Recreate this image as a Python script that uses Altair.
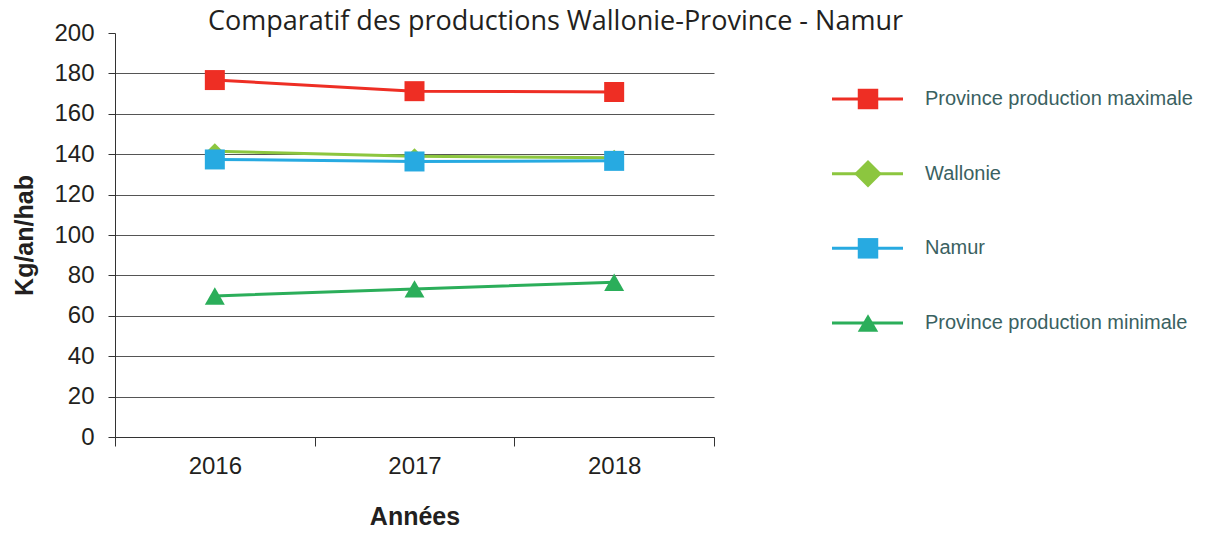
import altair as alt
import pandas as pd

years = ["2016", "2017", "2018"]
series = ["Province production maximale", "Wallonie", "Namur", "Province production minimale"]
prov_max = [176.7, 171.2, 170.8]
wallonie = [141.5, 139.0, 138.3]
namur = [137.4, 136.4, 136.7]
prov_min = [69.8, 73.3, 76.6]
colors = ["#EE2E24", "#8CC63F", "#27AAE1", "#2BAE5A"]
shapes = ["square", "diamond", "square", "triangle-up"]
y_ticks = [0, 20, 40, 60, 80, 100, 120, 140, 160, 180, 200]

values = [prov_max, wallonie, namur, prov_min]
rows = []
for s, vals in zip(series, values):
    for yr, v in zip(years, vals):
        rows.append({"year": yr, "series": s, "value": v})
df = pd.DataFrame(rows)
leg_df = pd.DataFrame({"series": series})

color = alt.Color("series:N", scale=alt.Scale(domain=series, range=colors), legend=None)
shape = alt.Shape("series:N", scale=alt.Scale(domain=series, range=shapes), legend=None)

x_enc = alt.X(
    "year:N",
    sort=years,
    scale=alt.Scale(type="band", paddingInner=0, paddingOuter=0),
    axis=alt.Axis(
        title="Années", labelAngle=0, tickBand="extent", tickSize=9, grid=False,
        labelFontSize=24, labelColor="#231F20", labelPadding=8,
        domainColor="#333333", tickColor="#333333",
        titleFontSize=25, titleFontWeight="bold", titleColor="#231F20",
        titleBaseline="alphabetic", titleY=87,
    ),
)
y_scale = alt.Scale(domain=[0, 200], nice=False)
y_axis = alt.Axis(
    title="Kg/an/hab", values=y_ticks, tickSize=7,
    labelFontSize=24, labelColor="#231F20", labelPadding=14,
    domainColor="#333333", tickColor="#333333",
    gridColor="#555555", gridWidth=1,
    gridOpacity={"condition": {"test": "datum.value === 200", "value": 0}, "value": 1},
    titleFontSize=25, titleFontWeight="bold", titleColor="#231F20",
    titleAngle=-90, titleX=-91, titleY=202, titleAlign="center", titleBaseline="middle",
)
y_enc = alt.Y("value:Q", scale=y_scale, axis=y_axis)

lines = alt.Chart(df).mark_line(strokeWidth=3).encode(
    x=x_enc, y=y_enc, color=color, detail="series:N",
)
points = alt.Chart(df).mark_point(filled=True, opacity=1).encode(
    x=x_enc, y=y_enc, color=color, shape=shape,
    size=alt.condition("datum.series === 'Wallonie'", alt.value(256), alt.value(400)),
)
main = alt.layer(lines, points)

leg_y = alt.Y("series:N", sort=series, scale=alt.Scale(type="point", range=[66, 290], padding=0), axis=None)
leg_rule = alt.Chart(leg_df).mark_rule(strokeWidth=3).encode(
    x=alt.value(717), x2=alt.value(788), y=leg_y, color=color,
)
leg_pts = alt.Chart(leg_df).mark_point(filled=True, opacity=1).encode(
    x=alt.value(753), y=leg_y, color=color, shape=shape,
    size=alt.condition("datum.series === 'Wallonie'", alt.value(760), alt.value(420)),
)
leg_txt = alt.Chart(leg_df).mark_text(align="left", baseline="middle", fontSize=20, color="#3A6161").encode(
    x=alt.value(810), y=leg_y, text="series:N",
)
legend = alt.layer(leg_rule, leg_pts, leg_txt)

chart = alt.layer(main, legend).resolve_scale(y="independent").properties(
    width=599, height=404,
    title=alt.TitleParams(
        "Comparatif des productions Wallonie-Province - Namur",
        font="Open Sans", fontSize=27, fontWeight="normal", color="#231F20",
        anchor="middle", dx=141, offset=-15,
    ),
    autosize="none",
    padding={"left": 107, "top": 25, "right": 484, "bottom": 88},
).configure(font="Liberation Sans").configure_view(stroke=None)

chart.save("out.html", embed_options={"renderer": "svg", "actions": False})
